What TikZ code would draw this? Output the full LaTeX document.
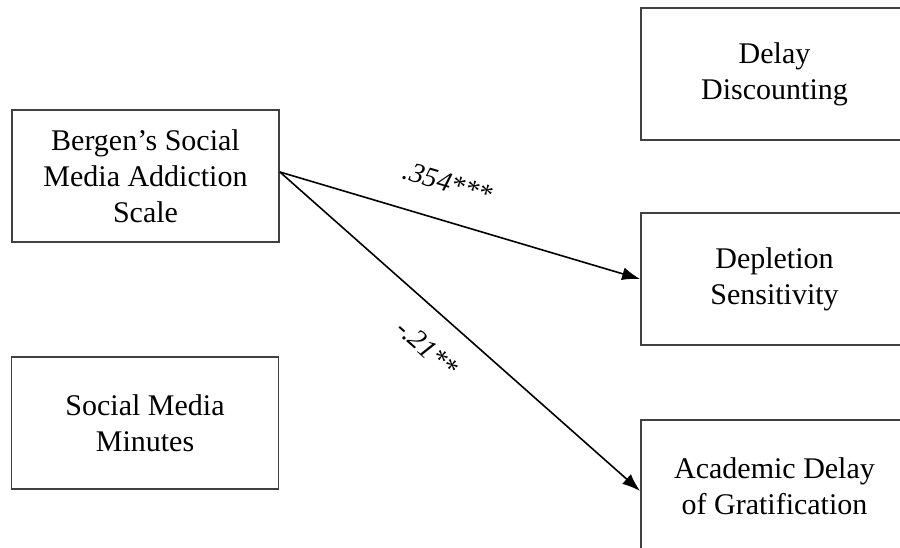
\documentclass[tikz,border=0pt]{standalone}
\usepackage{fontspec}
\setmainfont{Liberation Serif}
\usetikzlibrary{arrows.meta}
\begin{document}
\begin{tikzpicture}[x=1pt,y=-1pt,
  box/.style={draw=black!75, line width=1.8pt, minimum width=267pt, minimum height=132pt, align=center, font=\fontsize{30}{36}\selectfont, inner sep=0pt},
  arr/.style={line width=1.6pt, -{Latex[length=18pt,width=13pt]}},
  lab/.style={font=\fontsize{28}{32}\selectfont\itshape, sloped, inner sep=0pt}]
\useasboundingbox (0,0) rectangle (900,548);
\clip (0,0) rectangle (900,548);
\node[box] (bergen) at (145.5,176) {Bergen’s Social\\Media Addiction\\Scale};
\node[box] (minutes) at (145,423) {Social Media\\Minutes};
\node[box] (delay) at (774.5,74) {\raisebox{4pt}{\begin{tabular}{@{}c@{}}Delay\\Discounting\end{tabular}}};
\node[box] (deplet) at (774.5,279) {\raisebox{4pt}{\begin{tabular}{@{}c@{}}Depletion\\Sensitivity\end{tabular}}};
\node[box] (acad) at (774.5,486) {Academic Delay\\of Gratification};
\coordinate (src) at ([yshift=4pt]bergen.east);
\coordinate (tgt) at ([yshift=-5pt]acad.west);
\draw[arr] (src) -- (deplet.west) node[lab, pos=0.437, above=27pt] {.354***};
\draw[arr] (src) -- (tgt) node[lab, pos=0.472, below=24pt] {-.21**};
\end{tikzpicture}
\end{document}
